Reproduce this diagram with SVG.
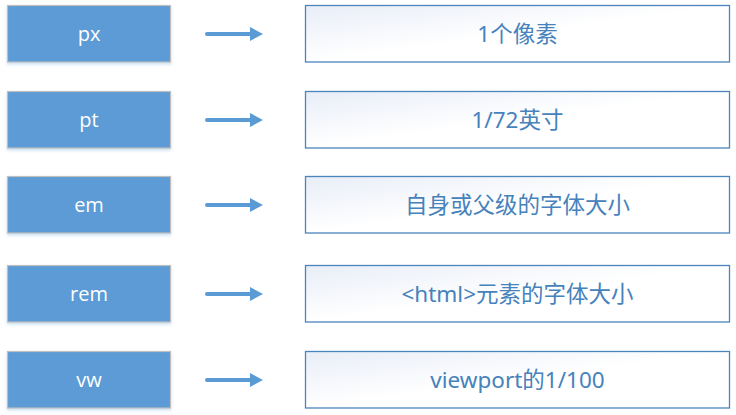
<svg xmlns="http://www.w3.org/2000/svg" width="736" height="415" viewBox="0 0 736 415">
<defs>
<linearGradient id="g" x1="0" y1="0" x2="1" y2="1" gradientUnits="objectBoundingBox">
<stop offset="0" stop-color="#e8edf7"/>
<stop offset="0.5" stop-color="#ffffff"/>
<stop offset="1" stop-color="#ffffff"/>
</linearGradient>
<marker id="ah" markerWidth="13" markerHeight="14" refX="0" refY="7" orient="auto" markerUnits="userSpaceOnUse">
<path d="M0,0 L13,7 L0,14 Z" fill="#5b9bd5"/>
</marker>
<filter id="sh" x="-5%" y="-10%" width="110%" height="130%">
<feDropShadow dx="0" dy="2" stdDeviation="1.5" flood-color="#9dc3e6" flood-opacity="0.5"/>
</filter>
</defs>
<style>
.l{fill:#5b9bd5;stroke:#bfbfbf;stroke-width:1.2}
.r{fill:url(#g);stroke:#4a86bd;stroke-width:1.3}
.lt{font-family:"Open Sans","Noto Sans",sans-serif;font-size:20px;fill:#ffffff;text-anchor:middle;dominant-baseline:central}
.rt{font-family:"Noto Sans","Noto Sans CJK SC",sans-serif;font-size:22.5px;fill:#4682bb;text-anchor:middle;dominant-baseline:central}
.c{stroke:#5b9bd5;stroke-width:4;stroke-linecap:round;fill:none}
</style>
<g id="connectors">
<line class="c" x1="207" y1="34" x2="250" y2="34" marker-end="url(#ah)"/>
<line class="c" x1="207" y1="120" x2="250" y2="120" marker-end="url(#ah)"/>
<line class="c" x1="207" y1="205" x2="250" y2="205" marker-end="url(#ah)"/>
<line class="c" x1="207" y1="294" x2="250" y2="294" marker-end="url(#ah)"/>
<line class="c" x1="207" y1="380" x2="250" y2="380" marker-end="url(#ah)"/>
</g>
<g id="n-px"><rect class="l" x="7.5" y="5.5" width="163" height="56.5" filter="url(#sh)"/><text class="lt" x="89" y="33">px</text></g>
<g id="n-pt"><rect class="l" x="7.5" y="91.5" width="163" height="56.5" filter="url(#sh)"/><text class="lt" x="89" y="119">pt</text></g>
<g id="n-em"><rect class="l" x="7.5" y="176.5" width="163" height="56.5" filter="url(#sh)"/><text class="lt" x="89" y="204">em</text></g>
<g id="n-rem"><rect class="l" x="7.5" y="265.5" width="163" height="56.5" filter="url(#sh)"/><text class="lt" x="89" y="293">rem</text></g>
<g id="n-vw"><rect class="l" x="7.5" y="351.5" width="163" height="56.5" filter="url(#sh)"/><text class="lt" x="89" y="379">vw</text></g>
<g id="d-px"><rect class="r" x="305.5" y="5.5" width="424" height="56.5"/><text class="rt" x="517.5" y="33.5">1个像素</text></g>
<g id="d-pt"><rect class="r" x="305.5" y="91.5" width="424" height="56.5"/><text class="rt" x="517.5" y="119.5">1/72英寸</text></g>
<g id="d-em"><rect class="r" x="305.5" y="176.5" width="424" height="56.5"/><text class="rt" x="517.5" y="204.5">自身或父级的字体大小</text></g>
<g id="d-rem"><rect class="r" x="305.5" y="265.5" width="424" height="56.5"/><text class="rt" x="517.5" y="293.5">&lt;html&gt;元素的字体大小</text></g>
<g id="d-vw"><rect class="r" x="305.5" y="351.5" width="424" height="56.5"/><text class="rt" x="517.5" y="379.5">viewport的1/100</text></g>
</svg>
